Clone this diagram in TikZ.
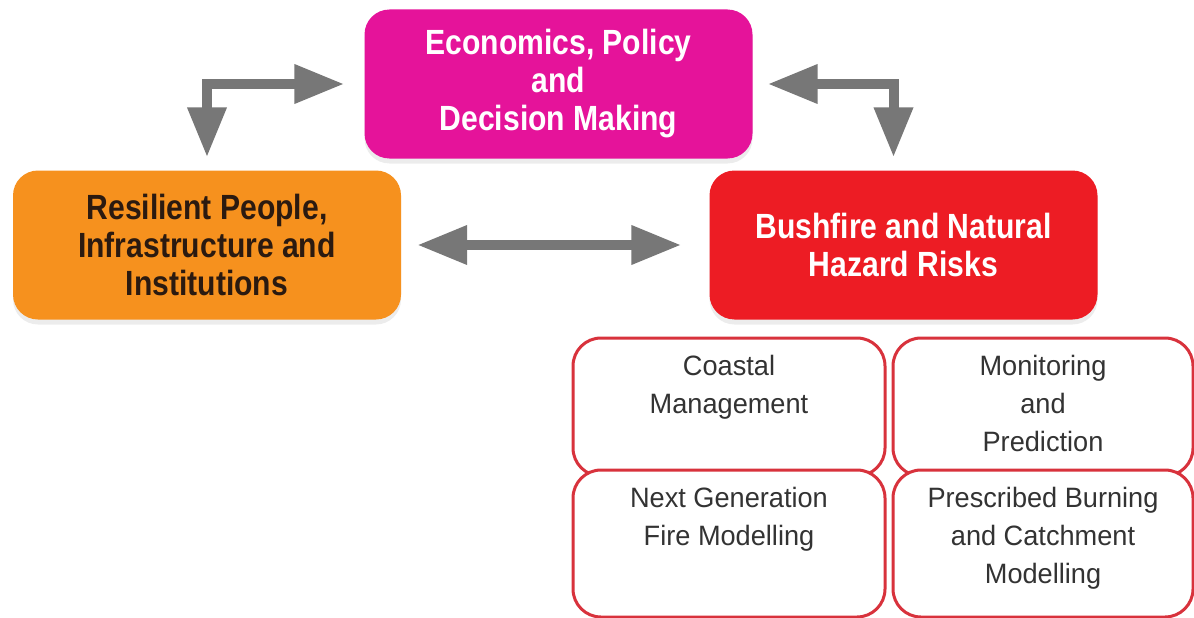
\documentclass[tikz,border=0pt]{standalone}
\usepackage{fontspec}
\setmainfont{Liberation Sans}
\newfontfamily\headfont{Liberation Sans}[FakeStretch=0.86]
\newfontfamily\itemfont{Liberation Sans}[FakeStretch=0.97]
\usetikzlibrary{arrows.meta,shadows}
\tikzset{%
  theme/.style={rectangle,rounded corners=25pt,fill=#1,minimum width=388pt,minimum height=149pt,
    align=center,font=\headfont\bfseries\fontsize{35}{38}\selectfont,
    drop shadow={opacity=0.15,shadow xshift=0pt,shadow yshift=-5pt}},
  theme/.default=c0,
  topic/.style={rectangle,rounded corners=28pt,draw=c3,line width=3pt,fill=white,
    minimum width=#1,minimum height=140pt},
  topic/.default=312pt,
  topictext/.style={anchor=north,align=center,text=black!80,font=\itemfont\fontsize{28}{38}\selectfont},
  link/.style={draw=c4,line width=10pt,{Triangle[length=50pt,width=37pt]}-{Triangle[length=50pt,width=37pt]}}
}
\definecolor{c0}{HTML}{E5139A}
\definecolor{c1}{HTML}{F6911E}
\definecolor{c2}{HTML}{ED1C24}
\definecolor{c3}{HTML}{D8323C}
\definecolor{c4}{HTML}{777777}
\definecolor{c5}{HTML}{2B1A10}

\begin{document}
\begin{tikzpicture}[x=1pt,y=-1pt]
  \useasboundingbox (0,0) rectangle (1194,618);
  \node[theme=c0,text=white] (econ) at (558.5,84) {Economics, Policy\\and\\Decision Making};
  \node[theme=c1,text=c5] (resil) at (207,245) {Resilient People,\\Infrastructure and\\Institutions};
  \node[theme=c2,text=white] (risk) at (903.5,245) {Bushfire and Natural\\Hazard Risks};
  \draw[link,shorten <=20pt,shorten >=13pt] (econ.west) -| (resil.north);
  \draw[link,shorten <=15pt,shorten >=13pt] (econ.east) -| ([xshift=-10pt]risk.north);
  \draw[link,shorten <=16pt,shorten >=28pt] (resil.east) -- (risk.west);
  %%%
  \node[topic,minimum height=138pt] (coast) at (729,407) {};
  \node[topic=300pt,minimum height=138pt] (monit) at (1043,407) {};
  \node[topic,minimum height=147pt] (fire) at (729,543.5) {};
  \node[topic=300pt,minimum height=147pt] (burn) at (1043,543.5) {};
  \node[topictext] (t0) at ([yshift=-15pt]coast.north) {Coastal\\Management};
  \node[topictext] (t1) at ([yshift=-15pt]monit.north) {Monitoring\\and\\Prediction};
  \node[topictext] (t2) at ([yshift=-15pt]fire.north) {Next Generation\\Fire Modelling};
  \node[topictext] (t3) at ([yshift=-15pt]burn.north) {Prescribed Burning\\and Catchment\\Modelling};
\end{tikzpicture}
\end{document}
